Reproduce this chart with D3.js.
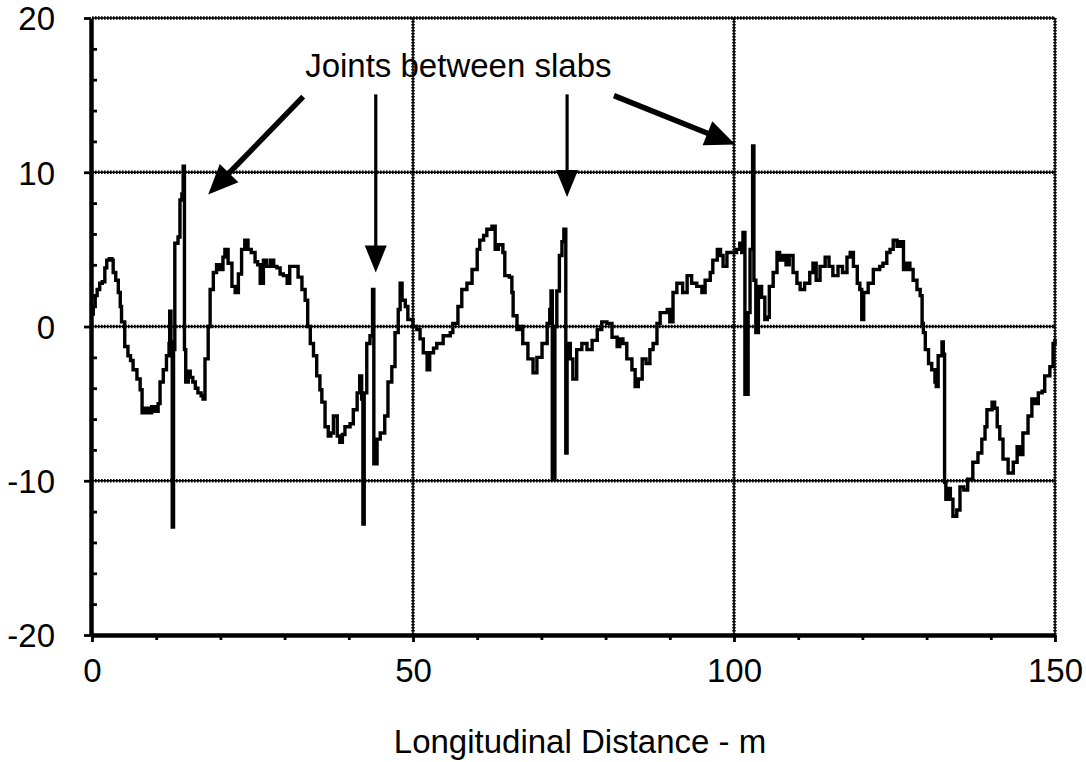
<!DOCTYPE html>
<html>
<head>
<meta charset="utf-8">
<script src="https://cdn.jsdelivr.net/npm/d3@7"></script>
<style>
  body { margin: 0; background: #fff; }
  svg { display: block; }
  text { font-family: "Liberation Sans", Arial, Helvetica, sans-serif; fill: #000; }
</style>
</head>
<body>
<svg id="chart" width="1086" height="762"></svg>
<script>
// Longitudinal profile along the slab run (distance in m, profile offset)
const distance = [
  0.0, 0.2, 0.5, 0.8, 1.2, 1.6, 2.0, 2.3, 2.7, 3.1, 3.3, 3.7, 4.1, 4.4, 4.6, 5.1, 5.6, 6.0, 6.4, 7.0,
  7.5, 7.8, 8.3, 8.8, 9.3, 9.8, 10.3, 10.6, 11.1, 11.6, 12.0, 12.1, 12.3, 12.5, 12.7, 12.9, 13.4, 13.7, 14.0, 14.2,
  14.4, 14.6, 15.0, 15.3, 15.7, 16.1, 16.5, 17.0, 17.3, 17.6, 18.1, 18.4, 18.9, 19.4, 19.9, 20.4, 20.7, 21.2, 21.8, 22.3,
  22.8, 23.3, 23.8, 24.3, 24.8, 25.4, 25.8, 26.2, 26.7, 27.2, 27.8, 28.3, 28.8, 29.3, 29.8, 30.4, 30.8, 31.6, 32.1, 32.7,
  33.2, 33.6, 34.0, 34.5, 35.0, 35.5, 35.8, 36.3, 36.8, 37.2, 37.6, 38.2, 38.6, 39.0, 39.4, 40.2, 40.7, 41.3, 41.7, 42.0,
  42.2, 42.4, 42.8, 43.3, 43.7, 43.9, 44.4, 44.9, 45.6, 46.1, 46.7, 47.2, 47.7, 48.0, 48.3, 48.8, 49.2, 50.0, 50.6, 51.1,
  51.6, 52.2, 52.6, 53.2, 53.7, 54.7, 55.8, 56.2, 57.0, 57.6, 58.4, 59.2, 60.0, 60.4, 61.0, 61.5, 62.3, 62.8, 63.3, 64.0,
  64.3, 65.0, 65.4, 65.6, 66.2, 66.7, 67.1, 67.9, 68.7, 69.3, 70.1, 70.9, 71.3, 71.5, 71.7, 72.1, 72.4, 72.8, 73.2, 73.5,
  73.8, 74.0, 74.5, 74.9, 75.5, 76.3, 77.1, 77.9, 78.7, 79.4, 80.2, 81.0, 81.8, 82.2, 82.7, 83.3, 84.1, 84.6, 85.1, 85.7,
  86.3, 86.9, 87.4, 88.0, 88.5, 89.6, 90.0, 90.5, 91.1, 91.6, 92.0, 92.7, 93.4, 94.2, 95.0, 95.5, 96.3, 96.7, 97.4, 97.9,
  98.3, 98.9, 99.8, 100.4, 100.9, 101.2, 101.4, 101.7, 102.2, 102.5, 102.9, 103.1, 103.4, 103.8, 104.3, 104.8, 105.2, 105.5, 106.1, 106.7,
  107.1, 107.6, 108.1, 108.6, 109.2, 109.8, 110.3, 111.0, 111.8, 112.3, 112.8, 113.4, 114.2, 114.8, 115.4, 116.2, 116.9, 117.6, 118.1, 118.6,
  119.2, 119.6, 119.9, 120.2, 120.9, 121.7, 122.7, 123.2, 123.8, 124.3, 124.8, 125.4, 125.9, 126.4, 126.9, 127.4, 127.9, 128.5, 129.0, 129.3,
  129.5, 129.8, 130.3, 130.8, 131.3, 131.5, 131.8, 132.4, 132.6, 132.8, 133.0, 133.4, 133.7, 134.1, 134.7, 135.2, 135.8, 136.4, 137.2, 138.0,
  138.6, 139.1, 139.4, 140.2, 140.6, 141.0, 141.4, 141.9, 142.7, 143.5, 144.1, 144.6, 145.0, 145.8, 146.4, 146.9, 147.4, 148.0, 148.4, 149.2,
  149.7, 150.0
];
const offset = [
  0.8, 1.3, 2.0, 2.4, 2.8, 2.9, 3.8, 4.3, 4.4, 4.3, 3.5, 3.0, 2.2, 1.3, 0.3, -1.3, -1.9, -2.2, -2.8, -3.4,
  -4.1, -5.6, -5.3, -5.6, -5.2, -5.5, -5.0, -3.6, -2.8, -1.9, -1.1, 1.0, -1.0, -13.0, -1.5, 5.4, 5.8, 8.2, 8.6, 10.4,
  -1.5, -3.6, -2.9, -3.3, -3.6, -4.0, -4.3, -4.5, -4.7, -2.1, 0.0, 2.4, 3.5, 4.0, 3.7, 4.5, 5.0, 4.1, 2.6, 2.2,
  3.4, 5.0, 5.6, 5.0, 4.8, 4.2, 4.0, 2.8, 4.3, 3.9, 4.3, 3.9, 3.8, 3.4, 3.3, 2.8, 3.9, 3.9, 3.2, 2.4,
  1.7, 0.0, -1.1, -1.9, -3.2, -4.1, -4.9, -6.5, -7.1, -6.9, -5.8, -7.1, -7.5, -7.0, -6.5, -6.3, -5.4, -4.3, -3.2, -4.7,
  -12.8, -4.3, -1.1, -0.6, 2.4, -8.9, -7.3, -6.9, -5.8, -3.6, -2.6, -0.4, 1.1, 2.8, 1.7, 1.3, 0.45, 0.0, -0.2, -0.8,
  -1.7, -2.8, -1.7, -1.4, -1.1, -0.6, -0.4, 0.2, 1.3, 2.4, 2.8, 3.7, 5.0, 5.6, 5.9, 6.3, 6.5, 5.0, 5.3, 4.8,
  3.3, 3.2, 2.2, 0.7, -0.2, 0.0, -1.1, -2.1, -3.0, -2.0, -1.1, 0.2, 1.1, 2.3, -9.9, 0.0, 2.3, 4.6, 5.5, 6.3,
  -8.2, -1.1, -2.1, -3.4, -1.5, -1.1, -1.5, -0.9, -0.2, 0.3, 0.2, -0.7, -1.3, -0.8, -1.1, -2.1, -2.8, -3.9, -3.4, -2.1,
  -2.4, -1.5, -1.1, 0.2, 0.9, 1.1, 0.3, 2.2, 2.8, 2.8, 2.2, 3.3, 2.8, 2.6, 2.2, 3.0, 3.5, 4.3, 5.0, 4.6,
  3.9, 4.8, 4.8, 5.0, 5.4, 4.8, 6.1, -4.4, 0.9, 5.0, 11.7, 3.0, -0.4, 2.6, 1.9, 0.45, 0.6, 2.6, 3.5, 4.8,
  4.3, 4.6, 4.0, 4.6, 3.5, 2.8, 2.4, 2.8, 3.5, 4.1, 3.0, 3.9, 4.5, 3.9, 3.3, 3.9, 3.5, 4.5, 4.8, 3.9,
  2.8, 2.4, 0.45, 2.2, 2.8, 3.7, 3.9, 4.1, 4.8, 5.0, 5.6, 5.2, 5.5, 3.7, 4.1, 3.7, 3.0, 2.4, 2.0, 0.2,
  -0.4, -1.5, -2.4, -2.8, -3.6, -3.9, -1.9, -1.0, -1.8, -10.1, -11.2, -10.5, -11.2, -12.3, -11.9, -10.4, -10.6, -9.9, -8.8, -8.2,
  -7.3, -6.5, -5.4, -4.9, -5.3, -6.5, -7.3, -8.6, -9.5, -8.8, -7.8, -8.3, -6.9, -5.8, -4.7, -5.0, -4.3, -4.2, -3.2, -2.6,
  -1.1, -0.8
];

// Axes, ticks and grid
const xTicks = [0, 50, 100, 150];
const xMinorTicks = [10, 20, 30, 40, 60, 70, 80, 90, 110, 120, 130, 140];
const yTicks = [-20, -10, 0, 10, 20];
const yMinorTicks = [-18, -16, -14, -12, -8, -6, -4, -2, 2, 4, 6, 8, 12, 14, 16, 18];
const xGrid = [50, 100, 150];
const yGrid = [-10, 0, 10, 20];
const xTitle = "Longitudinal Distance - m";

// Annotation: label and arrows pointing at the slab joints (data units)
const noteText = "Joints between slabs";
const noteAt = [33.2, 16.2];
const arrowFrom = [[32.9, 14.9], [44.2, 15.05], [74.0, 15.05], [81.3, 14.97]];
const arrowTo = [[18.1, 8.55], [44.2, 3.5], [74.0, 8.4], [100.2, 11.8]];

const svg = d3.select("#chart");
const x = d3.scaleLinear().domain([0, 150]).range([92, 1055]);
const y = d3.scaleLinear().domain([-20, 20]).range([635, 18]);
const FONT = 33;
const tickLabel = d => String(d);   // plain hyphen for negatives

// Beaded grid lines: thin core plus a dotted outer stroke
function gridLine(g, x1, y1, x2, y2) {
  g.append("line").attr("x1", x1).attr("y1", y1).attr("x2", x2).attr("y2", y2)
    .attr("stroke", "#000").attr("stroke-width", 1.6);
  g.append("line").attr("x1", x1).attr("y1", y1).attr("x2", x2).attr("y2", y2)
    .attr("stroke", "#000").attr("stroke-width", 3.4).attr("stroke-dasharray", "1.6,1.4");
}
const grid = svg.append("g");
yGrid.forEach(v => gridLine(grid, x(0), y(v), x(150), y(v)));
xGrid.forEach(v => gridLine(grid, x(v), y(20), x(v), y(-20)));

// Profile trace
const line = d3.line()
  .x((d, i) => x(distance[i]))
  .y((d, i) => y(offset[i]))
  .curve(d3.curveStepAfter);
svg.append("path")
  .datum(offset)
  .attr("d", line)
  .attr("fill", "none")
  .attr("stroke", "#000")
  .attr("stroke-width", 3.4);

// Y axis
const yAxis = svg.append("g").attr("transform", `translate(${x(0) - 1},0)`)
  .call(d3.axisLeft(y).tickValues(yTicks).tickSize(7).tickSizeOuter(0).tickPadding(29)
    .tickFormat(tickLabel));
const yMinor = svg.append("g").attr("transform", `translate(${x(0) - 1},0)`)
  .call(d3.axisRight(y).tickValues(yMinorTicks).tickSize(6).tickSizeOuter(0).tickFormat(""));
yMinor.select(".domain").remove();

// X axis
const xAxis = svg.append("g").attr("transform", `translate(0,${y(-20)})`)
  .call(d3.axisBottom(x).tickValues(xTicks).tickSize(7).tickSizeOuter(0).tickPadding(17)
    .tickFormat(tickLabel));
const xMinor = svg.append("g").attr("transform", `translate(0,${y(-20)})`)
  .call(d3.axisBottom(x).tickValues(xMinorTicks).tickSize(5).tickSizeOuter(0).tickFormat(""));
xMinor.select(".domain").remove();

[yAxis, xAxis].forEach(g => {
  g.select(".domain").attr("stroke", "#000").attr("stroke-width", 4.5);
  g.selectAll(".tick text").attr("font-size", FONT)
    .attr("font-family", '"Liberation Sans", Arial, sans-serif').attr("fill", "#000");
});
[yAxis, xAxis, yMinor, xMinor].forEach(g =>
  g.selectAll(".tick line").attr("stroke", "#000").attr("stroke-width", 2.8));
yAxis.selectAll(".tick text").attr("dy", "0.36em");

// Axis title
svg.append("text")
  .attr("x", 580).attr("y", 753)
  .attr("text-anchor", "middle")
  .attr("font-size", FONT)
  .text(xTitle);

// Annotation label
svg.append("text")
  .attr("x", x(noteAt[0])).attr("y", y(noteAt[1]))
  .attr("font-size", FONT)
  .text(noteText);

// Arrows with solid triangular heads
arrowFrom.forEach((from, i) => {
  const to = arrowTo[i];
  const x1 = x(from[0]), y1 = y(from[1]);
  const x2 = x(to[0]), y2 = y(to[1]);
  const dx = x2 - x1, dy = y2 - y1;
  const len = Math.hypot(dx, dy);
  const ux = dx / len, uy = dy / len;
  const vertical = from[0] === to[0];
  const headLen = vertical ? 27 : 30;
  const headHalf = vertical ? 11 : 13;
  const bx = x2 - ux * headLen, by = y2 - uy * headLen;
  svg.append("line")
    .attr("x1", x1).attr("y1", y1).attr("x2", bx + ux * 2).attr("y2", by + uy * 2)
    .attr("stroke", "#000").attr("stroke-width", vertical ? 3.2 : 5.5);
  svg.append("polygon")
    .attr("points", [
      [x2, y2],
      [bx - uy * headHalf, by + ux * headHalf],
      [bx + uy * headHalf, by - ux * headHalf]
    ].map(p => p.join(",")).join(" "))
    .attr("fill", "#000");
});
</script>
</body>
</html>
